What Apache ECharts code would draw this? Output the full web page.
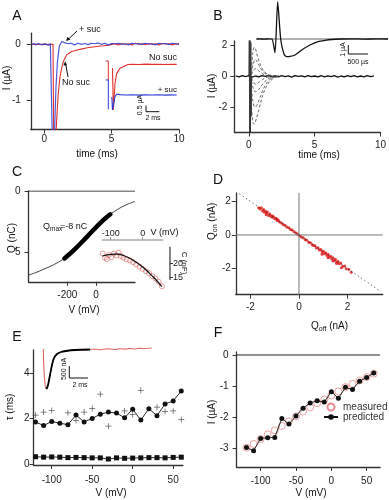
<!DOCTYPE html>
<html><head><meta charset="utf-8">
<script src="https://cdn.jsdelivr.net/npm/echarts@6/dist/echarts.min.js"></script>
<style>html,body{margin:0;padding:0;background:#fff}#c{width:389px;height:500px}</style>
</head><body><div id="c"></div>
<script>
// ---------------- DATA ----------------
// Panel A main traces (time ms, current µA)
const aBlueT = [-0.9,-0.75,-0.6,-0.45,-0.3,-0.15,0,0.15,0.3,0.45,0.55,0.6,0.75,0.79,0.87,0.97,1.11,1.29,1.5,1.75,2,2.25,2.5,2.75,3,3.25,3.5,3.75,4,4.25,4.5,4.75,5,5.25,5.5,5.75,6,6.25,6.5,6.75,7,7.25,7.5,7.75,8,8.25,8.5,8.75,9,9.25,9.5,9.75,10];
const aBlueI = [0,0.015,-0.01,0.015,0,-0.01,0.01,0,-0.015,0.01,0,-1.7,-1.7,-1.36,-0.76,-0.34,-0.04,0.05,0.03,0.01,0.02,-0.01,0.02,0,0.015,-0.005,0.02,0.01,0.025,0,0.02,-0.01,0.015,0.01,0.02,0,0.01,-0.01,0.02,0.01,0.015,0,0.02,0.005,0.01,-0.01,0.02,0.01,0.015,0,0.02,0.01,0.01];
const aRedT = [-0.9,-0.5,0,0.5,0.65,0.7,0.85,0.92,1.04,1.17,1.29,1.41,1.66,2.03,2.65,3.2,3.89,4.4,4.88,5.25,5.5,5.75,6,6.25,6.5,6.75,7,7.25,7.5,7.75,8,8.25,8.5,8.75,9,9.25,9.5,9.75,10];
const aRedI = [0,0,0,0,0,-1.7,-1.7,-1.36,-0.88,-0.58,-0.43,-0.31,-0.19,-0.13,-0.09,-0.06,-0.04,-0.025,-0.01,0.01,-0.01,0.015,0,0.01,-0.01,0.02,0,0.01,-0.005,0.015,0,0.01,-0.01,0.015,0.005,0.01,-0.01,0.01,0];
// Panel A inset (ms, µA)
const aInRedT = [1.92,2.05,2.31,2.57,3.08,3.85,4.31,5,6,7,8,9,10,11,11.8];
const aInRedI = [-0.58,-4.08,-1.86,-1.03,-0.61,-0.39,-0.29,-0.27,-0.29,-0.26,-0.28,-0.27,-0.29,-0.27,-0.28];
const aInBlueT = [1.82,1.92,2.31,2.57,3.08,4,5,6,7,8,9,10,11,11.8];
const aInBlueI = [-3.0,-4.08,-2.98,-2.75,-2.8,-2.83,-2.81,-2.84,-2.82,-2.83,-2.81,-2.84,-2.82,-2.83];
const aBracketRedT = [0.88,1.28,1.28];
const aBracketRedI = [0,0,-1.58];
const aBracketBlueT = [0.88,1.28,1.28];
const aBracketBlueI = [-1.58,-1.58,-4.02];

// Panel B main (ms, µA)
const bFlatT = [-1,-0.75,-0.5,-0.25,0,0.25,0.5,0.75,1,1.25,1.5,1.75,2,2.25,2.5,2.75,3,3.25,3.5,3.75,4,4.25,4.5,4.75,5,5.25,5.5,5.75,6,6.25,6.5,6.75,7,7.25,7.5,7.75,8,8.25,8.5,8.75,9,9.25,9.5];
const bFlatI = [0.03,-0.04,0.05,-0.02,0.04,-0.05,0.02,-0.03,0.05,-0.01,0.04,-0.04,0.02,-0.03,0.05,-0.02,0.03,-0.05,0.04,-0.01,0.03,-0.04,0.05,-0.02,0.02,-0.04,0.05,-0.03,0.03,-0.02,0.04,-0.05,0.02,-0.03,0.04,-0.02,0.05,-0.04,0.02,-0.03,0.04,-0.02,0.03];
const bSpikeT = [0,0.03,0.06,0.09,0.12,0.15,0.18,0.2];
const bSpikeI = [0,2.4,-3.8,2.4,-3.8,2.2,-2.6,0];
const bDecayT = [0.2,0.3,0.4,0.5,0.6,0.75,0.9,1.05,1.2,1.4,1.6,1.8,2.0,2.3];
const bDecay1 = [0.4,1.5,1.88,1.8,1.45,1.05,0.7,0.45,0.28,0.15,0.08,0.04,0.02,0];
const bDecay2 = [0.2,0.7,1.0,1.1,1.0,0.75,0.5,0.32,0.2,0.1,0.05,0.03,0.01,0];
const bDecay3 = [0.1,0.3,0.45,0.5,0.47,0.36,0.25,0.16,0.1,0.05,0.03,0.01,0,0];
const bDecay4 = [-0.1,-0.3,-0.45,-0.5,-0.48,-0.4,-0.3,-0.2,-0.12,-0.06,-0.03,-0.01,0,0];
const bDecay5 = [-0.3,-0.7,-0.95,-1.0,-0.97,-0.85,-0.68,-0.5,-0.35,-0.2,-0.1,-0.05,-0.02,0];
const bDecay6 = [-0.8,-1.6,-1.95,-2.0,-1.9,-1.6,-1.25,-0.92,-0.65,-0.38,-0.2,-0.1,-0.04,0];
const bDecay7 = [-2.0,-3.0,-3.1,-2.95,-2.65,-2.2,-1.7,-1.25,-0.9,-0.55,-0.32,-0.17,-0.08,0];
// Panel B inset (µs, µA)
const bInT = [17,100,200,300,400,475,542,617,700,767,850,975,1142,1350,1550,1725,1892,2100,2400,2700,3000,3300];
const bInI = [0,0.02,-0.02,0.02,0,-1.44,3.93,0,-1.6,-1.86,-1.84,-1.68,-1.16,-0.63,-0.28,-0.14,-0.05,0,0.02,-0.01,0.01,0];
const bInBaseT = [0,3300];
const bInBaseI = [0,0];

// Panel C main (mV, nC)
const cCurveV = [-470,-420,-370,-320,-270,-220,-170,-120,-70,-20,30,80,130,180,230,272];
const cCurveQ = [-6.85,-6.65,-6.4,-6.15,-5.85,-5.5,-5.05,-4.42,-3.82,-3.2,-2.6,-2.08,-1.65,-1.3,-1.03,-0.85];
const cDotsV = [-220,-200,-180,-160,-140,-120,-100,-80,-60,-40,-20,0,20,40,60,80,100];
const cDotsQ = [-5.5,-5.3,-5.1,-4.88,-4.65,-4.42,-4.18,-3.94,-3.7,-3.45,-3.2,-2.96,-2.72,-2.5,-2.28,-2.08,-1.9];
const cZeroV = [-470,272];
const cZeroQ = [0,0];
// Panel C inset (mV, nF)
const cInV = [-125,-118,-112,-105,-98,-90,-82,-75,-68,-60,-50,-40,-30,-20,-10,0,10,20,30,40,50,60];
const cInC = [23.5,22.0,21.5,23.0,22.2,23.5,22.8,23.8,22.6,22.0,21.4,21.0,20.4,19.6,18.8,18.0,17.2,16.5,15.4,14.6,13.4,11.8];
const cFitV = [-125,-100,-80,-60,-40,-20,0,20,40,60];
const cFitC = [22.6,23.2,23.3,22.8,21.8,20.4,18.7,16.6,14.3,11.7];

// Panel D (nA)
const dOff = [-1.66,-1.6,-1.55,-1.5,-1.45,-1.42,-1.38,-1.33,-1.3,-1.25,-1.2,-1.15,-1.1,-1.05,-1.0,-0.95,-0.9,-0.85,-0.8,-0.72,-0.65,-0.58,-0.5,-0.42,-0.35,-0.28,-0.2,-0.12,-0.05,0.03,0.1,0.18,0.25,0.32,0.4,0.47,0.55,0.6,0.66,0.72,0.78,0.84,0.9,0.95,1.0,1.05,1.1,1.15,1.2,1.25,1.3,1.35,1.4,1.45,1.5,1.55,1.6,1.66,1.72,1.8,1.88,1.95,2.05,2.15,-1.35,-1.1,0.95,1.4,1.75,-0.9,1.2,1.55];
const dOn = [1.62,1.55,1.62,1.43,1.52,1.35,1.41,1.3,1.37,1.16,1.25,1.12,1.06,1.09,0.97,0.99,0.86,0.88,0.78,0.71,0.63,0.58,0.48,0.43,0.33,0.29,0.19,0.12,0.04,-0.04,-0.12,-0.17,-0.27,-0.31,-0.43,-0.46,-0.58,-0.63,-0.64,-0.78,-0.76,-0.9,-0.86,-1.02,-0.97,-1.12,-1.06,-1.22,-1.15,-1.31,-1.26,-1.43,-1.36,-1.52,-1.44,-1.63,-1.56,-1.72,-1.67,-1.86,-1.84,-2.01,-2.06,-2.22,1.2,1.15,-1.15,-1.55,-1.95,0.95,-1.35,-1.7];
const dDiagX = [-2.45,3.3];
const dDiagY = [2.45,-3.3];

// Panel E (mV, ms)
const eV = [-120,-110,-100,-90,-80,-70,-60,-50,-40,-30,-20,-10,0,10,20,30,40,50,60];
const eTauSlow = [1.85,1.69,1.87,1.79,1.73,2.15,1.85,2.0,2.19,2.28,2.24,2.03,2.41,1.93,2.43,2.12,2.64,2.77,3.21];
const eTauFast = [0.32,0.3,0.31,0.3,0.28,0.29,0.28,0.27,0.27,0.22,0.27,0.25,0.26,0.27,0.28,0.28,0.27,0.29,0.3];
const ePlusV = [-120,-110,-100,-80,-70,-60,-50,-40,-30,-10,0,10,30,40,50,60];
const ePlusTau = [2.15,2.28,2.35,2.25,1.91,2.28,2.44,3.07,1.66,2.33,2.18,3.24,2.5,2.31,2.33,1.96];
// Panel E inset (ms, nA)
const eInT = [0.3,0.36,0.5,0.59,0.73,0.91,1.09,1.27,1.55,1.91,2.36,3.18,3.6,4.1,4.55,5,5.5,6,6.36,6.8,7.3,7.8,8.18,8.6,9,9.5,10.15];
const eInI = [0,-875,-1637,-1667,-1500,-1083,-667,-375,-208,-125,-83,-42,-30,-45,-21,-10,-30,5,0,-20,10,-5,21,0,30,15,42];
const eFitT = [0.59,0.73,0.91,1.09,1.27,1.55,1.91,2.36,3.18,4.55];
const eFitI = [-1667,-1500,-1083,-667,-375,-208,-125,-83,-42,-21];

// Panel F (mV, µA)
const fV = [-120,-110,-100,-90,-80,-70,-60,-50,-40,-30,-20,-10,0,10,20,30,40,50,60];
const fMeasured = [-2.98,-2.86,-2.7,-2.55,-2.42,-2.28,-2.13,-1.97,-1.82,-1.68,-1.55,-1.43,-1.3,-1.17,-1.03,-0.93,-0.82,-0.71,-0.6];
const fPredicted = [-2.97,-3.08,-2.68,-2.66,-2.65,-2.04,-2.22,-1.96,-1.71,-1.54,-1.47,-1.51,-1.18,-1.39,-1.04,-1.11,-0.84,-0.72,-0.58];
const fZeroV = [-134,69];
const fZeroI = [0,0];

// ---------------- BUILD ----------------
const FONT = "'Liberation Sans', Arial, sans-serif";
const RED = '#e0302a', BLUE = '#2a3cd6', AX = '#333';
const zip = (a, b) => a.map((v, i) => [v, b[i]]);

function axis(gi, min, max, ticks, margin, extra) {
  return Object.assign({
    type: 'value', gridIndex: gi, min: min, max: max,
    axisLine: {show: true, onZero: false, lineStyle: {color: AX, width: 1.3}},
    axisTick: {show: true, length: 4, customValues: ticks, lineStyle: {color: AX, width: 1}},
    axisLabel: {show: true, customValues: ticks, fontSize: 10, color: '#222', fontFamily: FONT, margin: margin},
    splitLine: {show: false}
  }, extra || {});
}
function hidden(gi, min, max) {
  return {type: 'value', gridIndex: gi, min: min, max: max, show: false, splitLine: {show: false}};
}
function line(gi, name, xs, ys, color, width, extra) {
  return Object.assign({
    type: 'line', name: name, xAxisIndex: gi, yAxisIndex: gi, data: zip(xs, ys),
    symbol: 'none', silent: true, animation: false,
    lineStyle: {color: color, width: width}
  }, extra || {});
}

const grids = [
  {left: 30.8, top: 33.2, width: 148.2, height: 96.3},   // 0 A
  {left: 100, top: 55, width: 80, height: 60},            // 1 A inset
  {left: 234.4, top: 40.9, width: 147.6, height: 91.6},  // 2 B
  {left: 256, top: 0, width: 132, height: 60},            // 3 B inset
  {left: 28.6, top: 191, width: 106.4, height: 90.8},    // 4 C
  {left: 101.7, top: 240, width: 68.3, height: 48},       // 5 C inset
  {left: 235.8, top: 193, width: 147, height: 101.6},    // 6 D
  {left: 33.5, top: 350, width: 149.4, height: 115},     // 7 E
  {left: 40, top: 345, width: 112, height: 45},          // 8 E inset
  {left: 236.6, top: 351.9, width: 143.5, height: 115.1} // 9 F
];

const xAxes = [
  axis(0, -1, 10, [0, 5, 10], 5),
  hidden(1, 0, 12.31),
  axis(2, -1.1, 10, [0, 5, 10], 8),
  hidden(3, 0, 3300),
  axis(4, -470, 272, [-200, 0], 8),
  axis(5, -128, 85.4, [-100, 0], 2, {position: 'top', axisLine: {show: false, onZero: false},
    axisTick: {show: true, length: 3, customValues: [-100, 0], lineStyle: {color: '#999'}},
    axisLabel: {show: true, customValues: [-100, 0], fontSize: 9, color: '#222', fontFamily: FONT, margin: 2}}),
  axis(6, -2.6, 3.45, [-2, 0, 2], 8),
  axis(7, -122.5, 62, [-100, -50, 0, 50], 10),
  hidden(8, 0, 10.18),
  axis(9, -134, 69, [-100, -50, 0, 50], 9)
];
const yAxes = [
  axis(0, -1.53, 0.2, [-1, 0], 10),
  hidden(1, -4.5, 0.5),
  axis(2, -3.65, 2.3, [-2, 0, 2], 7),
  hidden(3, -2.21, 4.11),
  axis(4, -7.4, 0, [-5, 0], 8, {axisLabel: {show: true, customValues: [-5, 0], fontSize: 10, color: '#222', fontFamily: FONT, margin: 8, formatter: v => String(Math.abs(v))}}),
  axis(5, 11.18, 28.32, [15, 20], 3, {position: 'right', axisLine: {show: false, onZero: false},
    axisTick: {show: true, length: 3, customValues: [15, 20], lineStyle: {color: AX}},
    axisLabel: {show: true, customValues: [15, 20], fontSize: 9, color: '#222', fontFamily: FONT, margin: 3}}),
  axis(6, -3.55, 2.5, [-2, 0, 2], 5),
  axis(7, -0.044, 5.01, [0, 2, 4], 4),
  hidden(8, -1708, 167),
  axis(9, -3.6, 0.1, [-3, -2, -1, 0], 8)
];

const plusPath = 'path://M2.2,0H2.8V2.2H5V2.8H2.8V5H2.2V2.8H0V2.2H2.2Z';
const series = [
  // A
  line(0, 'aRed', aRedT, aRedI, RED, 1.1),
  line(0, 'aBlue', aBlueT, aBlueI, BLUE, 1.2, {lineStyle: {color: BLUE, width: 1.2, opacity: 0.85}}),
  line(1, 'aBrR', aBracketRedT, aBracketRedI, RED, 1),
  line(1, 'aBrB', aBracketBlueT, aBracketBlueI, BLUE, 1),
  line(1, 'aInRed', aInRedT, aInRedI, RED, 1.1),
  line(1, 'aInBlue', aInBlueT, aInBlueI, BLUE, 1.1),
  // B
  line(2, 'bFlat', bFlatT, bFlatI, '#111', 1.3),
  line(2, 'bSpike', bSpikeT, bSpikeI, '#333', 0.9),
  ...[bDecay1, bDecay2, bDecay3, bDecay4, bDecay5, bDecay6, bDecay7].map((d, i) =>
    line(2, 'bDecay' + i, bDecayT, d, '#444', 0.8, {smooth: 0.3, lineStyle: {color: '#444', width: 0.8, type: [3, 2]}})),
  line(3, 'bInBase', bInBaseT, bInBaseI, '#999', 1.5),
  line(3, 'bIn', bInT, bInI, '#111', 1.3, {smooth: 0.2}),
  // C
  line(4, 'cZero', cZeroV, cZeroQ, '#111', 1.2),
  line(4, 'cCurve', cCurveV, cCurveQ, '#111', 0.8, {smooth: 0.3}),
  line(4, 'cDots', cDotsV, cDotsQ, '#000', 4.5, {lineStyle: {color: '#000', width: 4.5, cap: 'round'}}),
  line(5, 'cFit', cFitV, cFitC, '#111', 1.2, {smooth: 0.4}),
  {type: 'scatter', name: 'cIn', xAxisIndex: 5, yAxisIndex: 5, data: zip(cInV, cInC), symbol: 'circle', symbolSize: 5,
    itemStyle: {color: 'rgba(255,255,255,0)', borderColor: '#d66', borderWidth: 0.8}, silent: true, animation: false},
  // D
  line(6, 'dX0', [0, 0], [-3.55, 2.5], '#777', 1),
  line(6, 'dY0', [-2.6, 3.45], [0, 0], '#777', 1),
  line(6, 'dDiag', dDiagX, dDiagY, '#333', 1, {lineStyle: {color: '#333', width: 1, type: [1, 3]}}),
  {type: 'scatter', name: 'dPts', xAxisIndex: 6, yAxisIndex: 6, data: zip(dOff, dOn), symbol: 'circle', symbolSize: 3,
    itemStyle: {color: '#e02020', opacity: 0.85}, silent: true, animation: false},
  // E
  line(7, 'eSlow', eV, eTauSlow, '#111', 0.9, {symbol: 'circle', symbolSize: 5, showSymbol: true, itemStyle: {color: '#111'}}),
  line(7, 'eFast', eV, eTauFast, '#111', 0.9, {symbol: 'rect', symbolSize: 5, showSymbol: true, itemStyle: {color: '#111'}}),
  {type: 'scatter', name: 'ePlus', xAxisIndex: 7, yAxisIndex: 7, data: zip(ePlusV, ePlusTau), symbol: plusPath, symbolSize: 6,
    itemStyle: {color: '#333'}, silent: true, animation: false},
  line(8, 'eIn', eInT, eInI, '#e05050', 1, {smooth: 0.2}),
  line(8, 'eFit', eFitT, eFitI, '#000', 1.8, {smooth: 0.3}),
  // F
  line(9, 'fZero', fZeroV, fZeroI, '#222', 1),
  {type: 'scatter', name: 'measured', xAxisIndex: 9, yAxisIndex: 9, data: zip(fV, fMeasured), symbol: 'circle', symbolSize: 7,
    itemStyle: {color: 'rgba(255,255,255,0)', borderColor: '#e07070', borderWidth: 0.8}, silent: true, animation: false},
  line(9, 'predicted', fV, fPredicted, '#111', 0.9, {symbol: 'circle', symbolSize: 5, showSymbol: true, itemStyle: {color: '#111'}})
];

function T(x, y, text, size, extra) {
  return Object.assign({type: 'text', x: x, y: y, silent: true,
    style: Object.assign({text: text, fill: '#111', fontSize: size, fontFamily: FONT,
      align: 'center', verticalAlign: 'middle', textAlign: 'center', textVerticalAlign: 'middle'}, (extra && extra.style) || {})},
    extra && extra.rotation !== undefined ? {rotation: extra.rotation} : {});
}
function L(x1, y1, x2, y2, color, w) {
  return {type: 'line', silent: true, shape: {x1: x1, y1: y1, x2: x2, y2: y2}, style: {stroke: color || '#111', lineWidth: w || 1}};
}
function P(points, color) {
  return {type: 'polygon', silent: true, shape: {points: points}, style: {fill: color || '#111'}};
}
const R90 = Math.PI / 2;
const left = {style: {align: 'left', textAlign: 'left'}};
const richSub = (main, sub, rest) => ({
  style: {
    text: '{a|' + main + '}{b|' + sub + '}{a|' + rest + '}',
    rich: {a: {fontSize: 10, fontFamily: FONT, fill: '#111', lineHeight: 13, verticalAlign: 'middle'},
           b: {fontSize: 7, fontFamily: FONT, fill: '#111', lineHeight: 13, verticalAlign: 'bottom'}}
  }
});

const graphics = [
  // panel letters
  T(17, 16, 'A', 14), T(218, 16, 'B', 14), T(17, 172, 'C', 14),
  T(218, 180, 'D', 14), T(17, 337, 'E', 14), T(218, 333, 'F', 14),
  // axis titles
  T(7, 78, 'I (µA)', 10, {rotation: R90}), T(97, 154, 'time (ms)', 10),
  T(212, 86, 'I (µA)', 10, {rotation: R90}), T(319, 155, 'time (ms)', 10),
  T(12, 238, 'Q (nC)', 10, {rotation: R90}), T(84, 310, 'V (mV)', 10),
  Object.assign(T(206, 240, '', 10, {rotation: R90}), richSub('Q', 'on', ' (nA)')),
  Object.assign(T(311, 320, '', 10), richSub('Q', 'off', ' (nA)')),
  T(10, 407, 'τ (ms)', 10, {rotation: R90}), T(111, 493, 'V (mV)', 10),
  T(212, 412, 'I (µA)', 10, {rotation: R90}), T(311, 493, 'V (mV)', 10),
  // A annotations
  T(79, 30, '+ suc', 9, left), L(77, 31, 68, 39.5), P([[66, 41], [70.3, 39.8], [67.6, 36.8]]),
  T(62, 83, 'No suc', 9, left), L(68, 77, 65.8, 64.5), P([[65.2, 61.2], [63.4, 65.5], [67, 65.2]]),
  T(177, 57.5, 'No suc', 9, {style: {align: 'right', textAlign: 'right'}}),
  T(177, 89.5, '+ suc', 8, {style: {align: 'right', textAlign: 'right'}}),
  L(146, 105.5, 146, 111.7), L(146, 111.7, 159.3, 111.7),
  T(140.5, 105, '0.5 µA', 7, {rotation: R90}), T(153, 118.3, '2 ms', 7),
  // B inset scale bar
  L(348.3, 45, 348.3, 54), L(348.3, 54, 368, 54),
  T(343.5, 49.5, '1 µA', 7, {rotation: R90}), T(358, 61.7, '500 µs', 7),
  // C annotations
  T(43, 227, 'Q', 9, left), T(50, 229.5, 'max', 6.5, left), T(60, 227, '=-8 nC', 9, left),
  L(101.7, 240, 163.3, 240, '#aaa', 1.5), L(170, 246.7, 170, 280, AX, 1.2),
  T(164.5, 233, 'V (mV)', 9), T(184, 263, 'C (nF)', 8, {rotation: -R90}),
  // E inset scale bar
  L(69.3, 366, 69.3, 378), L(69.3, 378, 88, 378),
  T(64, 369, '500 nA', 7, {rotation: R90}), T(80, 385, '2 ms', 7)
];

const chart = echarts.init(document.getElementById('c'), null, {renderer: 'canvas'});
chart.setOption({
  animation: false,
  backgroundColor: '#fff',
  grid: grids,
  xAxis: xAxes,
  yAxis: yAxes,
  series: series,
  legend: {
    data: ['measured', 'predicted'], orient: 'vertical', left: 318, top: 397,
    itemWidth: 14, itemHeight: 7, itemGap: 0, selectedMode: false,
    textStyle: {fontSize: 10, color: '#333', fontFamily: FONT}
  },
  graphic: {elements: graphics}
});
</script></body></html>
